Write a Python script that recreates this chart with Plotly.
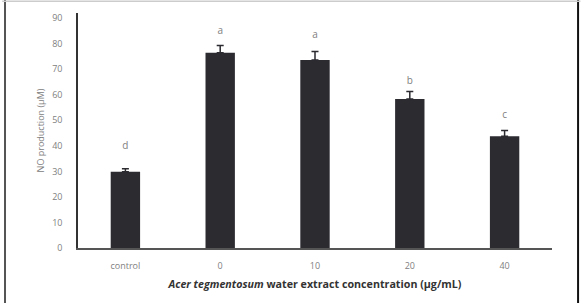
import plotly.graph_objects as go

categories = ["control", "0", "10", "20", "40"]
values = [29.9, 76.4, 73.6, 58.3, 43.7]
errors = [1.1, 2.9, 3.3, 3.0, 2.3]
letters = ["d", "a", "a", "b", "c"]
letter_y = [39.6, 84.6, 83.0, 65.2, 52.0]
y_ticks = [0, 10, 20, 30, 40, 50, 60, 70, 80, 90]

fig = go.Figure()
fig.add_trace(go.Bar(
    x=categories, y=values,
    marker=dict(color="#2b2b30", line=dict(width=0)),
    error_y=dict(type="data", symmetric=False, array=errors,
                 arrayminus=[0] * len(errors), color="#2b2b30",
                 thickness=1.5, width=3.5),
    showlegend=False,
))
fig.add_trace(go.Scatter(
    x=categories, y=letter_y, mode="text", text=letters,
    textfont=dict(family="Open Sans", size=10, color="#808080"),
    showlegend=False, hoverinfo="skip",
))

shapes = [
    dict(type="line", xref="paper", yref="paper", x0=-0.154, x1=-0.154, y0=-0.3, y1=1.06,
         line=dict(color="#555555", width=2)),
    dict(type="line", xref="paper", yref="paper", x0=1.055, x1=1.055, y0=-0.3, y1=1.06,
         line=dict(color="#111111", width=2)),
    dict(type="line", xref="paper", yref="paper", x0=-0.16, x1=1.06, y0=1.05, y1=1.05,
         line=dict(color="#cccccc", width=1.5)),
]

fig.update_layout(
    width=583, height=303,
    margin=dict(l=78, r=31, t=11, b=55),
    plot_bgcolor="white", paper_bgcolor="white",
    bargap=0.69,
    font=dict(family="Open Sans", size=9, color="#808080"),
    shapes=shapes,
    xaxis=dict(
        showline=True, linecolor="#555555", linewidth=1.5,
        ticks="", showgrid=False,
        tickfont=dict(size=9, color="#808080"),
        ticklabelstandoff=8,
        title=dict(text="<b><i>Acer tegmentosum</i> water extract concentration (μg/mL)</b>",
                   font=dict(family="Open Sans", size=10.7, color="#333333"), standoff=10),
    ),
    yaxis=dict(
        range=[0, 92], tickvals=y_ticks,
        showline=True, linecolor="#333333", linewidth=1.5,
        ticks="", showgrid=False, zeroline=False,
        tickfont=dict(size=9, color="#808080"),
        ticklabelstandoff=12,
        title=dict(text="NO production (μM)", font=dict(size=9, color="#808080"), standoff=6),
    ),
)

fig.write_html("out.html")
